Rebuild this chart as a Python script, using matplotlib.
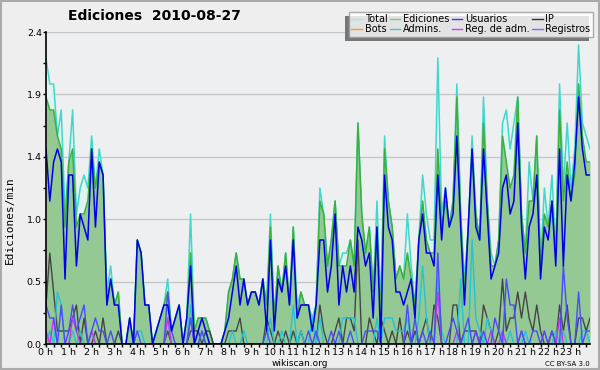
import matplotlib
matplotlib.use('Agg')
import numpy as np
import matplotlib.pyplot as plt
from matplotlib.lines import Line2D
from matplotlib.patches import Rectangle

# edits per 10-minute slot (00:00 .. 23:50)
total = [22, 20, 20, 16, 18, 10, 14, 18, 10, 12,
         13, 12, 16, 12, 15, 13, 4, 6, 3, 4,
         0, 0, 2, 0, 8, 7, 3, 3, 0, 1,
         2, 3, 5, 1, 2, 3, 0, 2, 10, 1,
         2, 2, 2, 1, 0, 0, 0, 1, 4, 5,
         7, 5, 5, 3, 4, 4, 3, 5, 3, 10,
         2, 6, 4, 7, 3, 9, 3, 4, 3, 3,
         2, 3, 12, 10, 6, 8, 11, 6, 7, 7,
         8, 6, 17, 10, 7, 9, 4, 11, 3, 16,
         11, 9, 5, 6, 5, 10, 6, 3, 8, 13,
         10, 8, 8, 22, 10, 12, 9, 11, 20, 10,
         5, 9, 16, 10, 8, 19, 11, 7, 6, 8,
         17, 18, 15, 17, 19, 10, 7, 14, 11, 16,
         6, 12, 9, 13, 7, 20, 12, 17, 12, 15,
         23, 17, 16, 15]
ediciones = [19, 18, 18, 16, 15, 9, 14, 15, 9, 10,
             10, 11, 15, 12, 14, 13, 3, 5, 3, 4,
             0, 0, 2, 0, 8, 7, 3, 3, 0, 1,
             2, 3, 4, 1, 2, 3, 0, 2, 7, 1,
             2, 2, 2, 1, 0, 0, 0, 1, 4, 5,
             7, 5, 5, 3, 4, 4, 3, 5, 3, 9,
             2, 6, 4, 7, 3, 9, 2, 4, 3, 3,
             1, 3, 11, 10, 6, 8, 11, 6, 6, 6,
             8, 6, 17, 10, 7, 9, 4, 9, 2, 15,
             11, 9, 5, 6, 5, 7, 5, 3, 8, 11,
             8, 7, 7, 15, 9, 11, 9, 11, 19, 10,
             4, 9, 15, 10, 8, 17, 11, 6, 6, 8,
             16, 14, 12, 13, 19, 10, 7, 11, 11, 16,
             6, 10, 9, 11, 7, 18, 11, 14, 11, 13,
             20, 16, 14, 14]
usuarios = [15, 11, 14, 15, 14, 5, 13, 13, 6, 10,
            9, 8, 15, 9, 14, 13, 3, 5, 3, 3,
            0, 0, 2, 0, 8, 7, 3, 3, 0, 1,
            2, 3, 3, 1, 2, 3, 0, 2, 6, 0,
            1, 2, 1, 0, 0, 0, 0, 1, 2, 4,
            6, 3, 5, 3, 4, 4, 3, 5, 1, 8,
            1, 5, 4, 6, 3, 8, 2, 3, 3, 3,
            1, 3, 8, 8, 4, 6, 10, 3, 6, 4,
            6, 4, 9, 8, 6, 7, 2, 9, 0, 13,
            9, 8, 4, 4, 3, 4, 5, 2, 8, 10,
            7, 7, 6, 13, 8, 12, 9, 10, 16, 9,
            3, 9, 15, 9, 8, 15, 10, 5, 6, 7,
            12, 13, 10, 11, 17, 9, 5, 9, 10, 13,
            5, 9, 8, 11, 6, 15, 6, 13, 11, 14,
            19, 15, 13, 13]
ip = [3, 7, 4, 1, 1, 1, 1, 2, 3, 0,
      2, 0, 0, 1, 0, 2, 0, 0, 0, 1,
      0, 0, 0, 0, 0, 0, 0, 0, 0, 0,
      0, 0, 1, 0, 0, 0, 0, 0, 1, 1,
      1, 0, 1, 1, 0, 0, 0, 0, 1, 1,
      1, 2, 0, 0, 0, 0, 0, 0, 2, 1,
      0, 1, 0, 1, 0, 1, 0, 1, 0, 0,
      0, 0, 3, 1, 0, 0, 1, 2, 0, 2,
      2, 1, 8, 0, 0, 2, 1, 0, 2, 1,
      0, 1, 0, 2, 0, 1, 0, 1, 0, 1,
      2, 0, 3, 2, 0, 0, 0, 3, 3, 0,
      1, 1, 1, 1, 0, 3, 2, 1, 0, 1,
      5, 1, 2, 2, 4, 2, 4, 2, 1, 3,
      1, 0, 0, 1, 0, 3, 1, 3, 0, 0,
      2, 2, 1, 2]
bots = [0] * 144
admins = [0, 1, 0, 4, 3, 0, 0, 1, 0, 1,
          0, 0, 1, 0, 0, 0, 0, 0, 0, 0,
          0, 0, 0, 0, 1, 1, 0, 0, 0, 0,
          0, 0, 2, 0, 0, 0, 0, 0, 3, 0,
          0, 1, 0, 0, 0, 0, 0, 0, 0, 1,
          0, 0, 1, 0, 0, 0, 0, 0, 0, 2,
          0, 0, 1, 0, 0, 3, 0, 1, 0, 0,
          2, 0, 2, 0, 0, 0, 0, 0, 2, 2,
          2, 2, 0, 0, 0, 0, 0, 2, 0, 2,
          2, 2, 1, 1, 1, 2, 0, 0, 2, 6,
          2, 0, 0, 5, 1, 0, 0, 0, 0, 5,
          0, 0, 8, 2, 1, 0, 2, 1, 0, 0,
          1, 0, 1, 0, 0, 0, 1, 0, 0, 0,
          0, 0, 0, 0, 1, 0, 1, 0, 0, 0,
          0, 1, 1, 0]
reg_adm = [1, 0, 2, 0, 0, 0, 0, 2, 1, 0,
           0, 0, 1, 0, 0, 0, 0, 0, 0, 0,
           0, 0, 0, 0, 0, 0, 0, 0, 0, 0,
           0, 0, 2, 0, 0, 0, 0, 0, 2, 0,
           0, 0, 0, 0, 0, 0, 0, 0, 0, 0,
           0, 0, 0, 0, 0, 0, 0, 0, 0, 0,
           0, 0, 0, 0, 0, 0, 0, 0, 0, 0,
           0, 0, 0, 0, 0, 0, 0, 0, 0, 0,
           0, 0, 0, 0, 0, 0, 0, 0, 0, 0,
           0, 0, 0, 0, 0, 0, 0, 0, 0, 0,
           0, 0, 0, 4, 0, 0, 0, 0, 1, 0,
           0, 0, 0, 1, 0, 0, 0, 1, 0, 0,
           1, 0, 0, 0, 0, 1, 0, 0, 0, 0,
           0, 1, 0, 0, 0, 2, 0, 0, 0, 0,
           0, 0, 0, 0]
registros = [3, 2, 2, 0, 3, 0, 1, 3, 1, 2,
             3, 0, 1, 2, 1, 1, 0, 1, 0, 0,
             0, 0, 0, 0, 1, 0, 0, 0, 0, 0,
             0, 0, 4, 1, 0, 0, 0, 0, 2, 0,
             0, 1, 0, 0, 0, 0, 0, 0, 0, 0,
             0, 0, 0, 0, 0, 0, 0, 0, 1, 0,
             0, 0, 0, 0, 0, 0, 0, 0, 0, 1,
             0, 1, 0, 0, 0, 1, 0, 1, 0, 0,
             1, 0, 0, 0, 1, 1, 1, 1, 0, 0,
             0, 0, 0, 0, 0, 3, 0, 2, 0, 1,
             0, 1, 0, 7, 0, 0, 1, 2, 1, 0,
             1, 2, 0, 1, 0, 1, 0, 0, 2, 1,
             0, 5, 3, 3, 0, 1, 0, 0, 1, 1,
             0, 1, 0, 1, 0, 0, 6, 2, 0, 0,
             4, 0, 1, 1]

hour_labels = ['%d h' % h for h in range(24)]
ytick_labels = ['0.0', '0.5', '1.0', '1.4', '1.9', '2.4']

# per 10 min -> per minute
per_min = lambda s: np.array(s) / 10.0
x = np.arange(len(total))

fig = plt.figure(figsize=(6, 3.7), dpi=100, facecolor='#eeeeee')
ax = fig.add_axes([46/600, 26/370, 544/600, 312/370], facecolor='#eeeff1')

ax.fill_between(x, 0, per_min(total), color='#dff4f0', lw=0)
ax.fill_between(x, 0, per_min(ediciones), color='#94c994', lw=0)
ax.plot(x, per_min(bots), color='#ff9922', lw=1)
ax.plot(x, per_min(total), color='#40d8cc', lw=1.1)
ax.plot(x, per_min(ediciones), color='#3cb03c', lw=1.1)
ax.plot(x, per_min(ip), color='#454545', lw=1)
ax.plot(x, per_min(admins), color='#22c4d8', lw=1)
ax.plot(x, per_min(reg_adm), color='#cc33ee', lw=1)
ax.plot(x, per_min(registros), color='#4a4aff', lw=1)
ax.plot(x, per_min(usuarios), color='#0000e6', lw=1.1)

ax.set_xlim(0, 143)
ax.set_ylim(0, 2.4)
ax.set_xticks(np.arange(0, 144, 6))
ax.set_xticklabels(hour_labels)
ax.set_xticks(np.arange(0, 144, 2), minor=True)
yt = np.linspace(0, 2.4, 6)
ax.set_yticks(yt)
ax.set_yticklabels(ytick_labels)
ax.set_yticks(np.arange(0.24, 2.4, 0.48), minor=True)
ax.yaxis.grid(True, color='#c8c8c8', lw=1)
ax.set_axisbelow(True)
ax.tick_params(axis='both', which='both', direction='out', length=2.5, width=1,
               labelsize=6.8, pad=0.5, colors='black')
for s in ['top', 'right']:
    ax.spines[s].set_visible(False)
for s in ['left', 'bottom']:
    ax.spines[s].set_linewidth(1.2)

fig.text(154/600, 1 - 16/370, 'Ediciones  2010-08-27', ha='center', va='center',
         fontsize=10, fontweight='bold')
fig.text(10/600, 1 - 220/370, 'Ediciones/min', rotation=90, ha='center', va='center',
         fontsize=8, family='DejaVu Sans Mono')
fig.text(300/600, 1 - 363.5/370, 'wikiscan.org', ha='center', va='center', fontsize=6.5)
fig.text(590/600, 1 - 363.5/370, 'CC BY-SA 3.0', ha='right', va='center', fontsize=5)

names = ['Total', 'Bots', 'Ediciones', 'Admins.', 'Usuarios', 'Reg. de adm.', 'IP', 'Registros']
colors = ['#a8e8e0', '#ff9922', '#7ccc7c', '#40c8d8', '#3a3aee', '#cc44ee', '#333333', '#7070ff']
handles = [Line2D([], [], color=c, lw=1) for c in colors]
leg = fig.legend(handles, names, ncol=4, loc='upper right',
                 bbox_to_anchor=(593/600, 1 - 12/370), fontsize=7,
                 frameon=True, fancybox=False, handlelength=1.1, handletextpad=0.3,
                 columnspacing=0.2, labelspacing=0.0, borderpad=0.25, borderaxespad=0)
leg.get_frame().set_edgecolor('#999999')
leg.get_frame().set_linewidth(1)
leg.set_zorder(10)

fig.canvas.draw()
bb = leg.get_window_extent().transformed(fig.transFigure.inverted())
fig.patches.append(Rectangle((bb.x0 - 4/600, bb.y0 - 4/370), bb.width, bb.height,
                             transform=fig.transFigure, facecolor='#777777',
                             edgecolor='none', zorder=9))
fig.patches.append(Rectangle((0.002, 0.003), 0.996, 0.994, transform=fig.transFigure,
                             facecolor='none', edgecolor='#aaaaaa', lw=1.5))

fig.savefig('out.png', dpi=100, facecolor=fig.get_facecolor())
